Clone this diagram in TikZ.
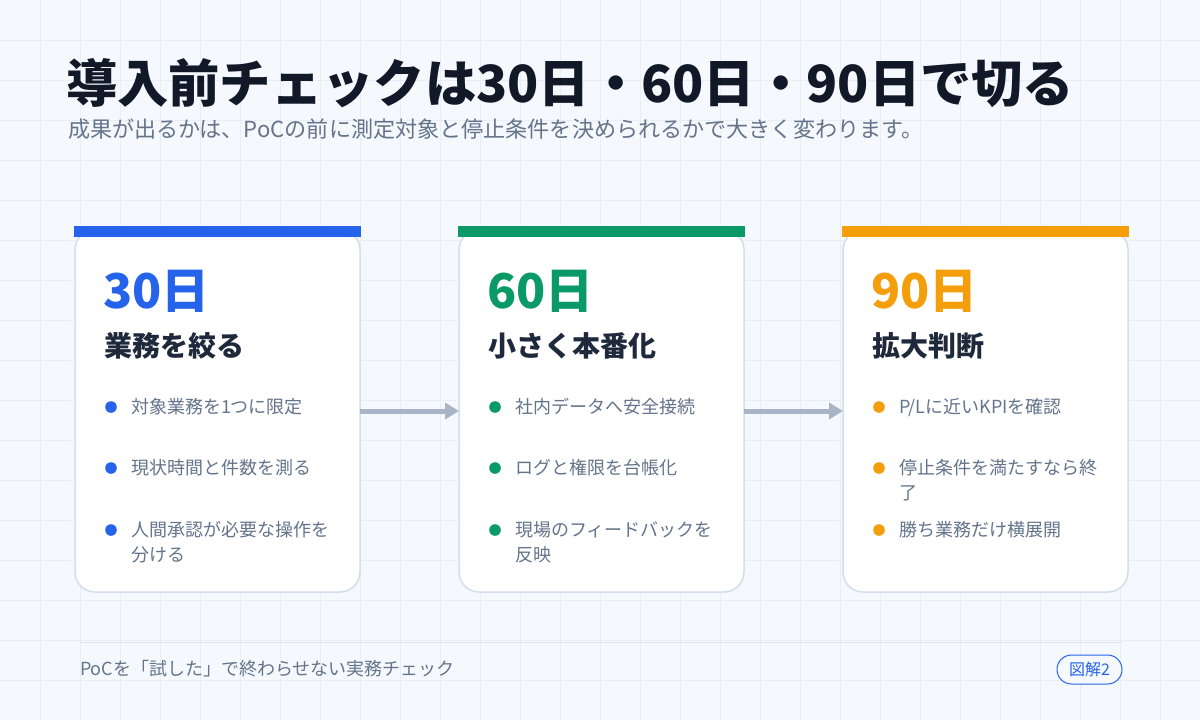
\documentclass[tikz,border=0pt]{standalone}
\usepackage{fontspec}
\setmainfont{Noto Sans CJK JP}
\usetikzlibrary{arrows.meta}
\definecolor{bgc}{HTML}{F5F8FC}
\definecolor{gridc}{HTML}{E8EEF5}
\definecolor{titlec}{HTML}{111827}
\definecolor{subc}{HTML}{64748B}
\definecolor{headc}{HTML}{1E293B}
\definecolor{bluec}{HTML}{2563EB}
\definecolor{greenc}{HTML}{0A9A67}
\definecolor{orangec}{HTML}{F59E0B}
\definecolor{arrowc}{HTML}{A9B5C7}
\definecolor{borderc}{HTML}{D3DEEC}
\definecolor{footc}{HTML}{DCE4EF}
\tikzset{
  gridline/.style={gridc, line width=1pt},
  card/.style={draw=borderc, line width=1.5pt, fill=white, rounded corners=20pt, minimum width=285pt, minimum height=362pt},
  dayt/.style={anchor=base west, font=\bfseries\fontsize{48}{56}\selectfont},
  headt/.style={anchor=base west, font=\bfseries\fontsize{28}{32}\selectfont, text=headc},
  bullt/.style={anchor=base west, font=\fontsize{18}{25}\selectfont, text=subc},
  flow/.style={arrowc, line width=5pt, -{Triangle[length=14pt,width=16pt]}},
}
\begin{document}
\begin{tikzpicture}[x=1pt,y=-1pt, every node/.style={inner sep=0pt, outer sep=0pt}]
\useasboundingbox (0,0) rectangle (1200,720);
\fill[bgc] (0,0) rectangle (1200,720);
\foreach \x in {40,80,...,1160} \draw[gridline] (\x,0) -- (\x,720);
\foreach \y in {40,80,...,680} \draw[gridline] (0,\y) -- (1200,\y);

\node[anchor=base west, font=\bfseries\fontsize{51.3}{60}\selectfont, text=titlec] (title) at (66,102) {導入前チェックは30日・60日・90日で切る};
\node[anchor=base west, font=\fontsize{22.1}{26}\selectfont, text=subc] (sub) at (68,137) {成果が出るかは、PoCの前に測定対象と停止条件を決められるかで大きく変わります。};

% cards
\node[card] (c1) at (217.5,411) {};
\node[card] (c2) at (601.5,411) {};
\node[card] (c3) at (985.5,411) {};
\fill[bluec] (74,226) rectangle (361,237);
\fill[greenc] (458,226) rectangle (745,237);
\fill[orangec] (842,226) rectangle (1129,237);

\draw[flow] (c1.east) -- (c2.west);
\draw[flow] (c2.east) -- (c3.west);

% card 1
\node[dayt, text=bluec] (d1) at (103,308) {30日};
\node[headt] (h1) at (104,356) {業務を絞る};
\fill[bluec] (111,407) circle[radius=5.8pt];
\node[bullt] (b11) at (131,413) {対象業務を1つに限定};
\fill[bluec] (111,468) circle[radius=5.8pt];
\node[bullt] (b12) at (131,474) {現状時間と件数を測る};
\fill[bluec] (111,530) circle[radius=5.8pt];
\node[bullt] (b13) at (131,536) {人間承認が必要な操作を};
\node[bullt] (b13b) at (131,561) {分ける};

% card 2
\node[dayt, text=greenc] (d2) at (487,308) {60日};
\node[headt] (h2) at (488,356) {小さく本番化};
\fill[greenc] (495,407) circle[radius=5.8pt];
\node[bullt] (b21) at (515,413) {社内データへ安全接続};
\fill[greenc] (495,468) circle[radius=5.8pt];
\node[bullt] (b22) at (515,474) {ログと権限を台帳化};
\fill[greenc] (495,530) circle[radius=5.8pt];
\node[bullt] (b23) at (515,536) {現場のフィードバックを};
\node[bullt] (b23b) at (515,561) {反映};

% card 3
\node[dayt, text=orangec] (d3) at (871,308) {90日};
\node[headt] (h3) at (872,356) {拡大判断};
\fill[orangec] (879,407) circle[radius=5.8pt];
\node[bullt] (b31) at (899,413) {P/Lに近いKPIを確認};
\fill[orangec] (879,468) circle[radius=5.8pt];
\node[bullt] (b32) at (899,474) {停止条件を満たすなら終};
\node[bullt] (b32b) at (899,499) {了};
\fill[orangec] (879,530) circle[radius=5.8pt];
\node[bullt] (b33) at (899,536) {勝ち業務だけ横展開};

% footer
\draw[footc, line width=1pt] (80,642) -- (1122,642);
\node[anchor=base west, font=\fontsize{18}{20}\selectfont, text=subc] (foot) at (80,675) {PoCを「試した」で終わらせない実務チェック};
\node[draw=bluec, line width=1pt, rounded corners=14.5pt, minimum width=65pt, minimum height=29pt, text=bluec, font=\fontsize{16}{18}\selectfont, fill=bgc] (badge) at (1089.5,669.5) {図解2};
\end{tikzpicture}
\end{document}
